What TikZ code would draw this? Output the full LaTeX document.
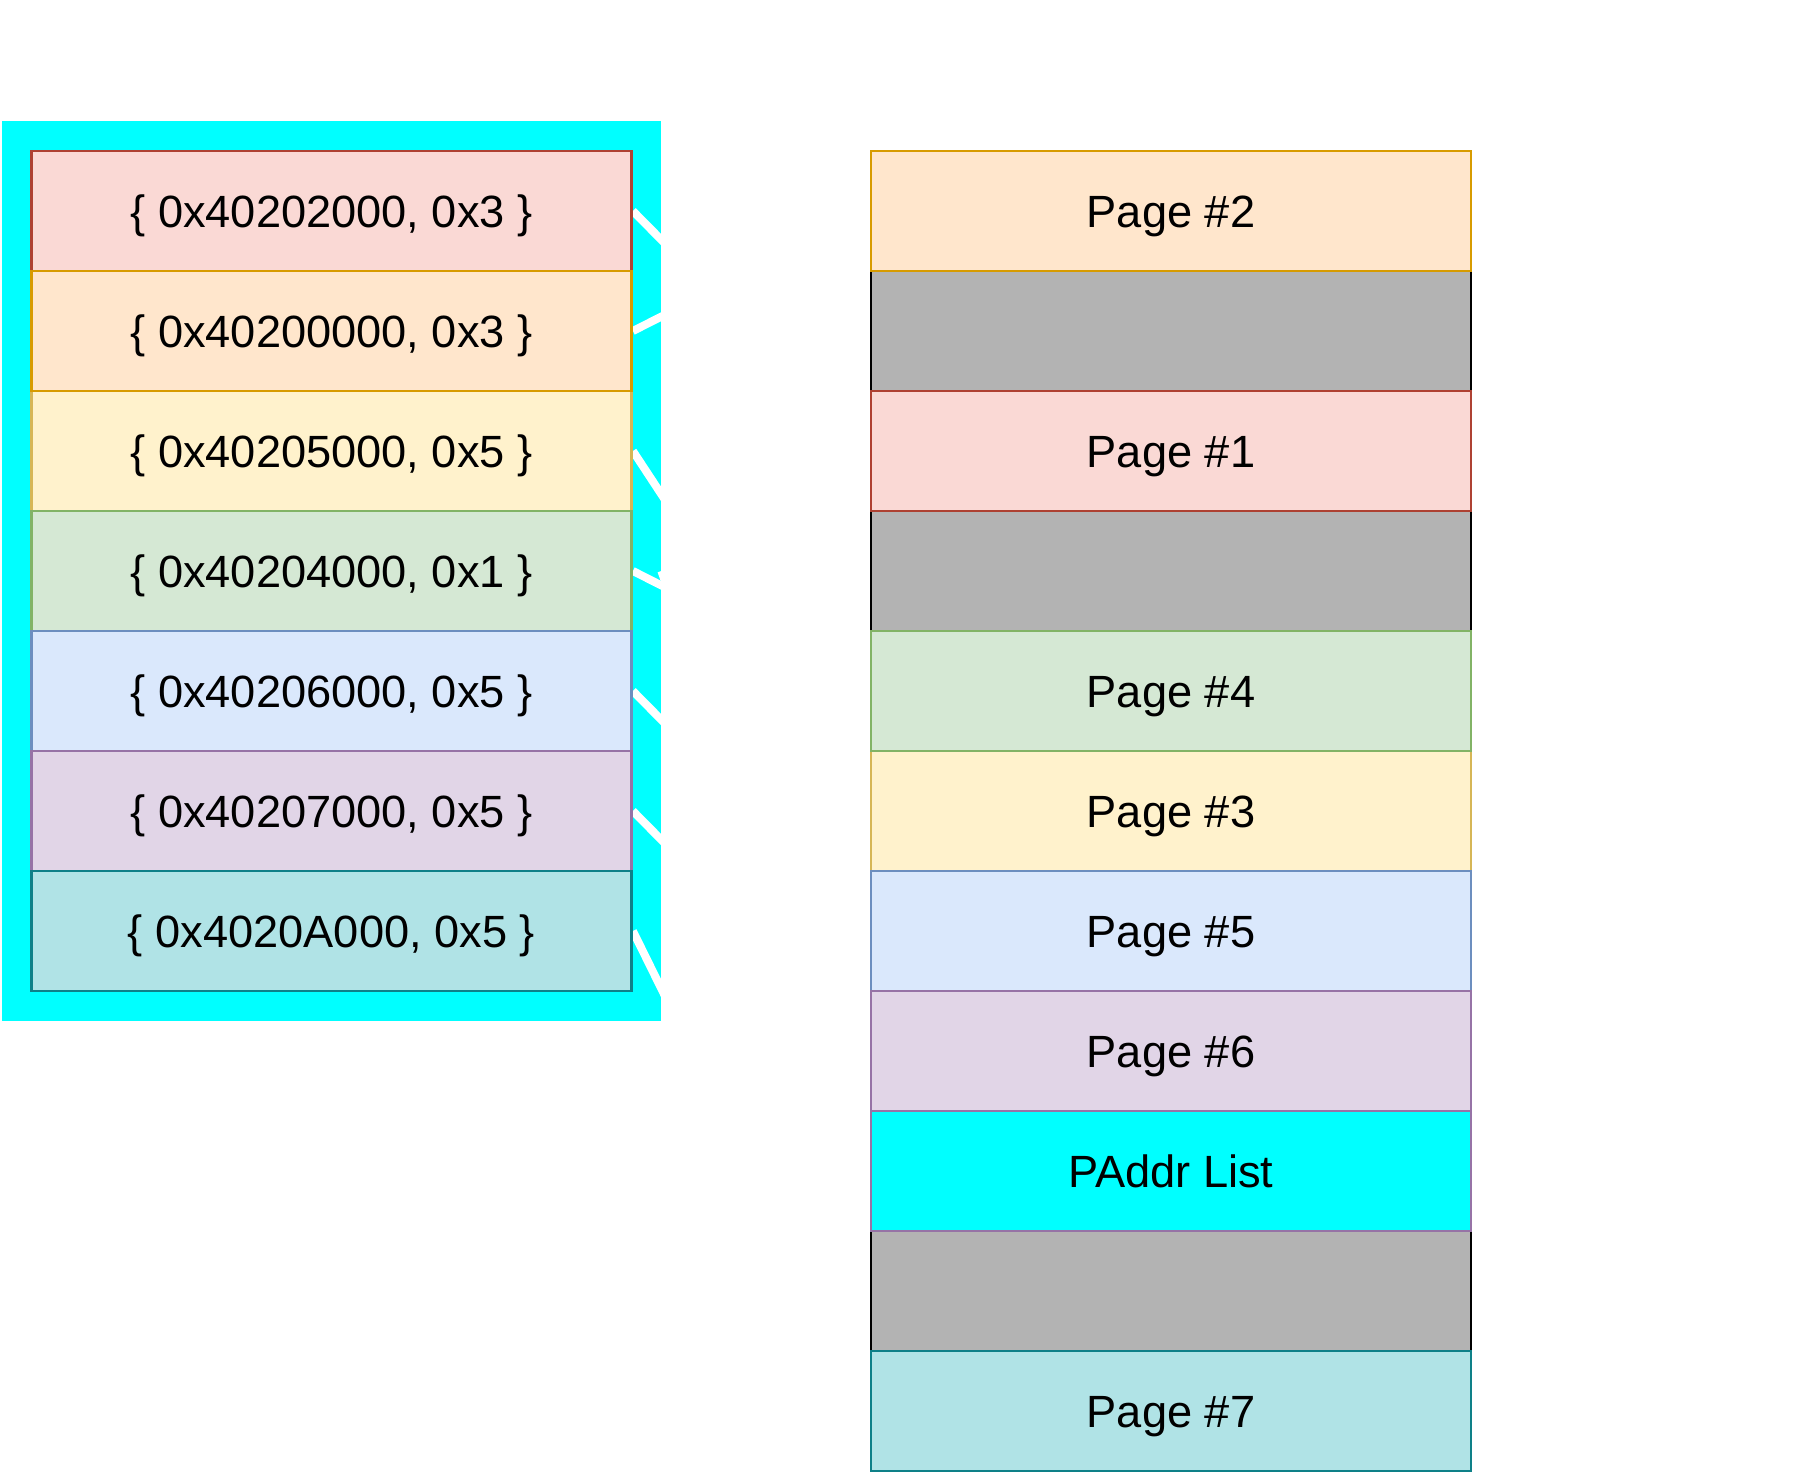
\documentclass[tikz,border=0pt]{standalone}
\usepackage{fontspec}
\setmainfont{Liberation Sans}
\usetikzlibrary{arrows.meta}
\pgfdeclarelayer{bg}
\pgfdeclarelayer{mid}
\pgfsetlayers{bg,mid,main}
\definecolor{redF}{HTML}{FAD9D5}\definecolor{redS}{HTML}{AE4132}
\definecolor{orgF}{HTML}{FFE6CC}\definecolor{orgS}{HTML}{D79B00}
\definecolor{yelF}{HTML}{FFF2CC}\definecolor{yelS}{HTML}{D6B656}
\definecolor{grnF}{HTML}{D5E8D4}\definecolor{grnS}{HTML}{82B366}
\definecolor{bluF}{HTML}{DAE8FC}\definecolor{bluS}{HTML}{6C8EBF}
\definecolor{purF}{HTML}{E1D5E7}\definecolor{purS}{HTML}{9673A6}
\definecolor{tealF}{HTML}{B0E3E6}\definecolor{tealS}{HTML}{0E8088}
\definecolor{grayF}{HTML}{B3B3B3}
\definecolor{cyanF}{HTML}{00FFFF}
\begin{document}
\begin{tikzpicture}[x=0.5pt,y=-0.5pt,
  cell/.style={draw, line width=1.4pt, minimum width=300pt, minimum height=60pt,
    inner sep=0pt, font=\fontsize{22.6}{27}\selectfont, text height=16.2pt, text depth=0pt},
  redc/.style={cell, fill=redF, draw=redS},
  orgc/.style={cell, fill=orgF, draw=orgS},
  yelc/.style={cell, fill=yelF, draw=yelS},
  grnc/.style={cell, fill=grnF, draw=grnS},
  bluc/.style={cell, fill=bluF, draw=bluS},
  purc/.style={cell, fill=purF, draw=purS},
  tealc/.style={cell, fill=tealF, draw=tealS},
  grayc/.style={cell, fill=grayF, draw=black},
  paddrc/.style={cell, fill=cyanF, draw=purS},
  link/.style={draw=white, line width=4pt, -{Latex[length=12pt,width=12pt]}}
]
\useasboundingbox (0,0) rectangle (1794,1473);
\begin{pgfonlayer}{bg}
\node[fill=cyanF, inner sep=0pt, minimum width=329.75pt, minimum height=450pt] (plist) at (331.25,571) {};
\end{pgfonlayer}
% left entries
\node[redc]  (e1) at (331.5,211) {\{ 0x40202000, 0x3 \}};
\node[yelc]  (e3) at (331.5,451) {\{ 0x40205000, 0x5 \}};
\node[orgc]  (e2) at (331.5,331) {\{ 0x40200000, 0x3 \}};
\node[grnc]  (e4) at (331.5,571) {\{ 0x40204000, 0x1 \}};
\node[bluc]  (e5) at (331.5,691) {\{ 0x40206000, 0x5 \}};
\node[purc]  (e6) at (331.5,811) {\{ 0x40207000, 0x5 \}};
\node[tealc] (e7) at (331.5,931) {\{ 0x4020A000, 0x5 \}};
% right memory column
\node[grayc] (g1) at (1171,331) {};
\node[grayc] (g3) at (1171,571) {};
\node[grayc] (g9) at (1171,1291) {};
\node[yelc]  (p3) at (1171,811) {Page \#3};
\node[grnc]  (p4) at (1171,691) {Page \#4};
\node[orgc]  (p2) at (1171,211) {Page \#2};
\node[redc]  (p1) at (1171,451) {Page \#1};
\node[bluc]  (p5) at (1171,931) {Page \#5};
\node[purc]  (p6) at (1171,1051) {Page \#6};
\node[paddrc] (paddr) at (1171,1171) {PAddr List};
\node[tealc] (p7) at (1171,1411) {Page \#7};
\begin{pgfonlayer}{mid}
\draw[link] (e1.east) -- (p1.west);
\draw[link] (e2.east) -- (p2.west);
\draw[link] (e3.east) -- (p3.west);
\draw[link] (e4.east) -- (p4.west);
\draw[link] (e5.east) -- (p5.west);
\draw[link] (e6.east) -- (p6.west);
\draw[link] (e7.east) -- (p7.west);
\draw[link] (plist.east) -- (paddr.west);
\end{pgfonlayer}
\end{tikzpicture}
\end{document}
